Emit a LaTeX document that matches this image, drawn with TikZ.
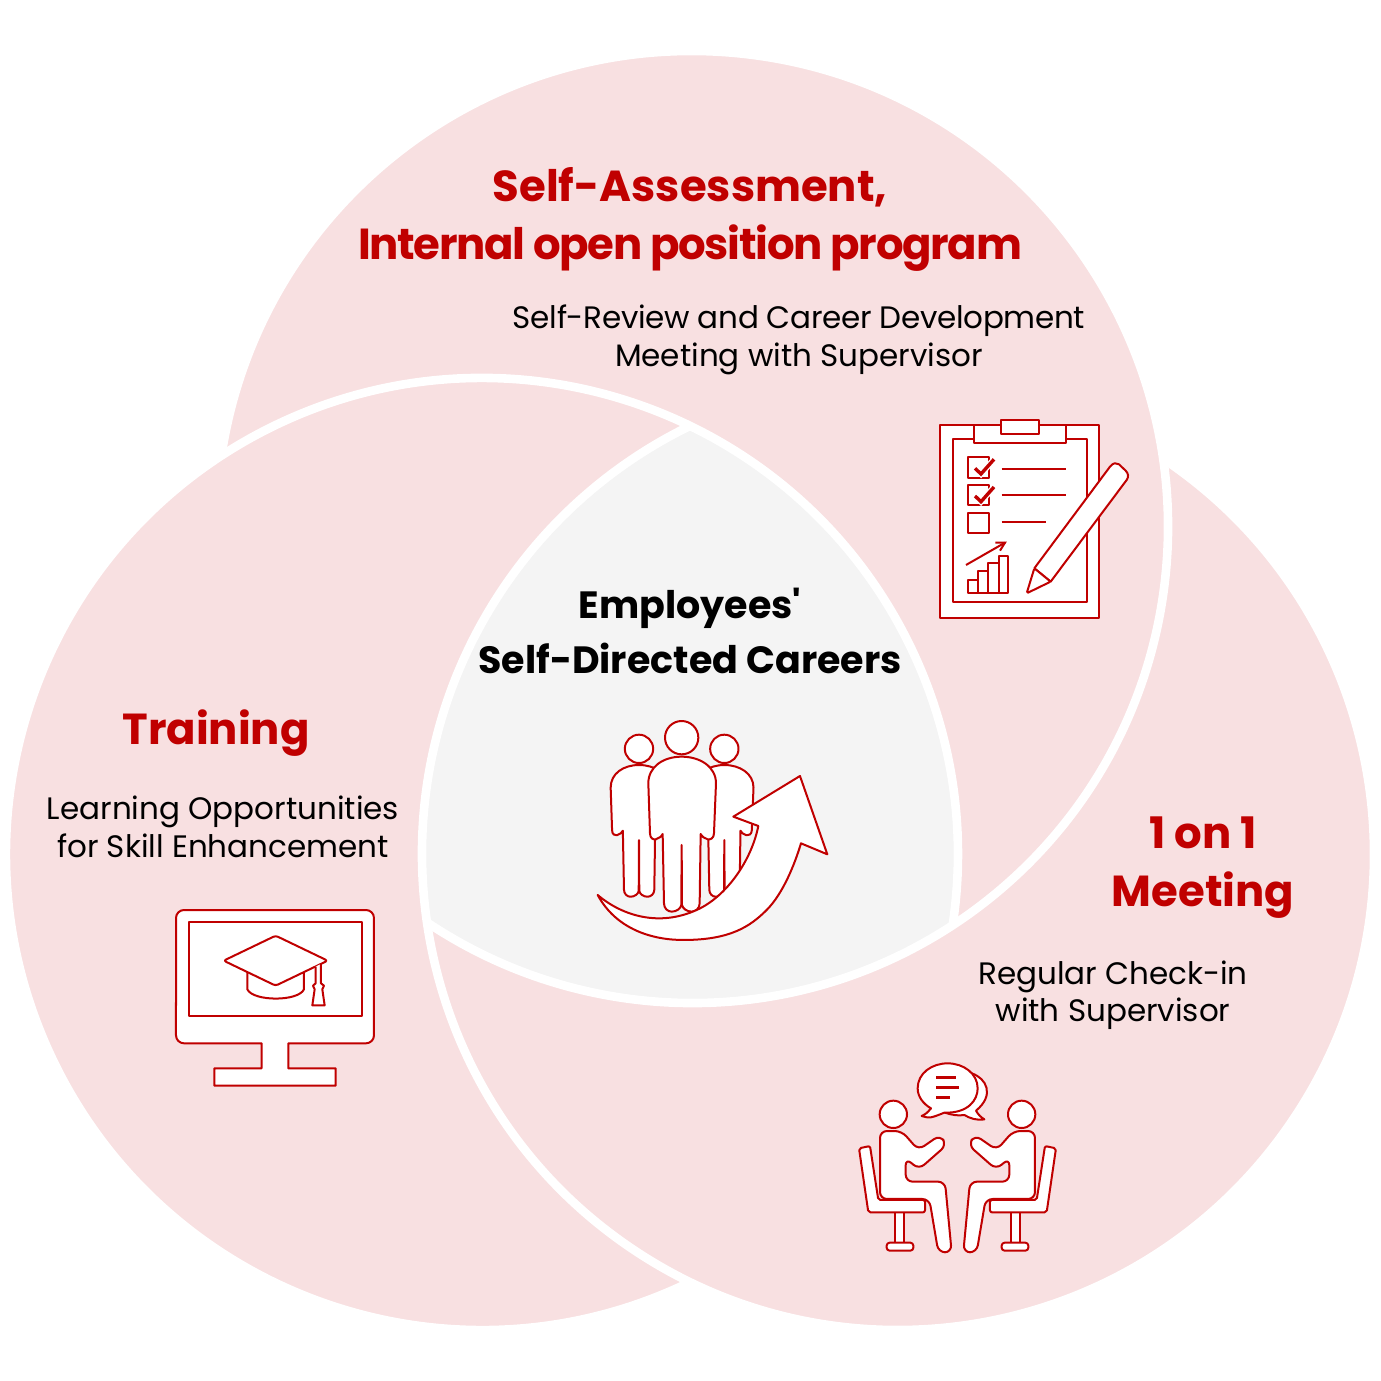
\documentclass[tikz,border=0pt]{standalone}
\usepackage{fontspec}
\setmainfont{Poppins}[Ligatures=TeXOff]
\definecolor{venn-pink}{HTML}{F8E0E1}
\definecolor{venn-grey}{HTML}{F4F4F4}
\definecolor{venn-red}{HTML}{C00000}
\tikzset{
    venn-disc/.style = {fill=venn-pink},
    venn-edge/.style = {draw=white, line width=8.6pt},
    venn-title/.style = {text=venn-red, font=\fontsize{43.4}{58}\selectfont\bfseries, align=center},
    venn-text/.style = {text=black, font=\fontsize{31}{37.5}\selectfont, align=center},
    venn-center/.style = {text=black, font=\fontsize{38}{55}\selectfont\bfseries, align=center},
    icon/.style = {draw=venn-red, fill=white, line width=2pt, line join=round},
    icon-line/.style = {draw=venn-red, line width=2pt},
    icon-tick/.style = {draw=venn-red, line width=3.4pt},
}
\newcommand{\checkmarkicon}[1]{%
    \draw[icon] (145,#1) rectangle (207,#1+61);
    \draw[draw=white, line width=6pt] (165,#1+33) -- (183,#1+50) -- (222,#1+6);
    \draw[icon-tick] (165,#1+33) -- (183,#1+50) -- (222,#1+6);
}
\begin{document}
\begin{tikzpicture}[x=1pt, y=-1pt]
\useasboundingbox (0,0) rectangle (1381,1381);

% the three discs and their common part
\coordinate (left-c) at (482,854);
\coordinate (top-c) at (692,527);
\coordinate (right-c) at (898,854);
\foreach \c in {left-c, top-c, right-c} {
    \fill[venn-disc] (\c) circle[radius=476pt];
}
\begin{scope}
    \clip (left-c) circle[radius=476pt];
    \clip (right-c) circle[radius=476pt];
    \fill[venn-grey] (top-c) circle[radius=476pt];
\end{scope}

% white edges, each one stops at the next disc
\draw[venn-edge] (left-c) ++(-64.1:476pt) arc[start angle=-64.1, end angle=-368.6, radius=476pt];
\draw[venn-edge] (top-c) ++(171.4:476pt) arc[start angle=171.4, end angle=-123.8, radius=476pt];
\draw[venn-edge] (right-c) ++(56.2:476pt) arc[start angle=56.2, end angle=-244.1, radius=476pt];

% labels
\node[venn-title] (assess-title) at (690,219) {Self-Assessment,\\\addfontfeature{LetterSpace=-3}Internal open position program};
\node[venn-text] (assess-text) at (799,340) {\addfontfeature{LetterSpace=-1}Self-Review and Career Development\\Meeting with Supervisor};
\node[venn-center] (center-title) at (690,631) {Employees'\\Self-Directed Careers};
\node[venn-title] (training-title) at (216,733) {Training};
\node[venn-text] (training-text) at (223,827) {Learning Opportunities\\for Skill Enhancement};
\node[venn-title] (meeting-title) at (1203,868) {1 on 1\\Meeting};
\node[venn-text] (meeting-text) at (1113,995) {Regular Check-in\\with Supervisor};

% clipboard
\begin{scope}[shift={(920,400)}, x=0.3333pt, y=-0.3333pt]
    \draw[icon] (60,75) rectangle (537,655);
    \draw[icon] (98,118) rectangle (502,607);
    \draw[icon] (162,75) rectangle (437,128);
    \draw[icon] (242,60) rectangle (357,103);
    \checkmarkicon{172}
    \checkmarkicon{255}
    \draw[icon] (145,338) rectangle (207,399);
    \draw[icon-line] (245,206) -- (437,206);
    \draw[icon-line] (245,285) -- (437,285);
    \draw[icon-line] (245,366) -- (378,366);
    \draw[icon] (145,540) rectangle (175,578);
    \draw[icon] (175,514) rectangle (205,578);
    \draw[icon] (205,490) rectangle (236,578);
    \draw[icon] (236,467) rectangle (265,578);
    \draw[icon-line] (138,495) -- (255,428);
    \draw[icon-line] (226,428) -- (255,428) -- (240,452);
    \draw[icon] (343,505) -- (570,200) .. controls (580,187) and (590,188) .. (597,193)
        -- (617,212) .. controls (625,220) and (627,230) .. (620,240) -- (392,545) -- cycle;
    \draw[icon, rounded corners=1.5pt] (343,505) -- (320,580) -- (392,545) -- cycle;
\end{scope}

% people and arrow
\begin{scope}[shift={(580,700)}, x=0.3333pt, y=-0.3333pt]
    \foreach \bodyx/\bodyy/\bodyscale in {177/195/.85, 433/195/.85, 305/170/1} {
        \begin{scope}[shift={(\bodyx,\bodyy)}, scale=\bodyscale]
            \draw[icon] (0,-57) circle[radius=50];
            \draw[icon] (-100,80) .. controls (-100,30) and (-55,0) .. (0,0)
                .. controls (55,0) and (103,30) .. (103,80) -- (97,230)
                .. controls (97,245) and (85,250) .. (78,248)
                .. controls (68,246) and (60,238) .. (57,232) -- (54,440)
                .. controls (54,455) and (42,465) .. (30,465)
                .. controls (15,465) and (3,455) .. (1,445) -- (0,265) -- (-1,445)
                .. controls (-3,455) and (-15,465) .. (-30,465)
                .. controls (-42,465) and (-53,455) .. (-53,440) -- (-57,232)
                .. controls (-60,238) and (-68,246) .. (-78,248)
                .. controls (-85,250) and (-95,245) .. (-95,230) -- cycle;
        \end{scope}
    }
    \draw[icon] (53,585) .. controls (110,690) and (220,720) .. (310,720)
        .. controls (450,720) and (510,680) .. (560,630)
        .. controls (610,580) and (645,490) .. (663,430)
        -- (742,463) -- (660,228) -- (460,350) -- (535,378)
        .. controls (515,480) and (440,590) .. (350,630)
        .. controls (240,680) and (130,650) .. (53,585) -- cycle;
\end{scope}

% monitor
\begin{scope}[shift={(160,895)}, x=0.3333pt, y=-0.3333pt]
    \draw[icon] (72,45) -- (618,45) arc[start angle=90, end angle=0, radius=8pt]
        -- (642,421) arc[start angle=0, end angle=-90, radius=8pt]
        -- (385,445) -- (385,520) -- (527,520) -- (527,572) -- (163,572) -- (163,520)
        -- (305,520) -- (305,445) -- (72,445) arc[start angle=270, end angle=180, radius=8pt]
        -- (48,69) arc[start angle=180, end angle=90, radius=8pt] -- cycle;
    \draw[icon] (87,82) rectangle (605,362);
    \draw[icon] (262,220) -- (262,283) .. controls (280,320) and (415,320) .. (432,283) -- (432,220) -- cycle;
    \draw[icon, rounded corners=2.5pt] (347,122) -- (503,197) -- (347,272) -- (191,197) -- cycle;
    \draw[icon] (467,215) -- (467,265) -- (459,272) -- (464,283) -- (457,331) -- (494,331)
        -- (487,283) -- (492,272) -- (483,265) -- (483,207);
\end{scope}

% two people at a table
\begin{scope}[shift={(845,1050)}, x=0.3333pt, y=-0.3333pt]
    \draw[icon] (380,70) .. controls (425,85) and (450,135) .. (393,182)
        .. controls (400,195) and (410,203) .. (418,208)
        .. controls (395,212) and (375,205) .. (358,195) .. controls (340,198) and (320,195) .. (300,188) -- cycle;
    \draw[icon] (258,175) .. controls (245,190) .. (230,198) .. controls (255,205) .. (298,188)
        .. controls (370,190) and (398,150) .. (398,115)
        .. controls (398,70) and (355,40) .. (308,40)
        .. controls (260,40) and (218,70) .. (218,115)
        .. controls (218,140) and (235,162) .. (258,175) -- cycle;
    \draw[icon-line, line width=2.6pt] (273,83) -- (333,83);
    \draw[icon-line, line width=2.6pt] (273,113) -- (343,113);
    \draw[icon-line, line width=2.6pt] (273,143) -- (315,143);
    \foreach \flip/\flipx in {1/0, -1/675} {
        \begin{scope}[shift={(\flipx,0)}, xscale=\flip]
            \draw[icon] (150,487) rectangle (178,578);
            \draw[icon, rounded corners=3pt] (125,578) rectangle (205,602);
            \draw[icon, rounded corners=2pt] (42,295) -- (75,288) -- (100,450) -- (240,450) -- (240,487) -- (70,487) -- cycle;
            \draw[icon] (145,193) circle[radius=41];
            \draw[icon, rounded corners=7pt] (105,243) -- (170,243) -- (220,300) -- (285,255) -- (305,285)
                -- (222,358) -- (182,325) -- (182,395) -- (300,395) -- (320,607) -- (280,607)
                -- (253,447) -- (105,447) -- cycle;
        \end{scope}
    }
\end{scope}
\end{tikzpicture}
\end{document}
